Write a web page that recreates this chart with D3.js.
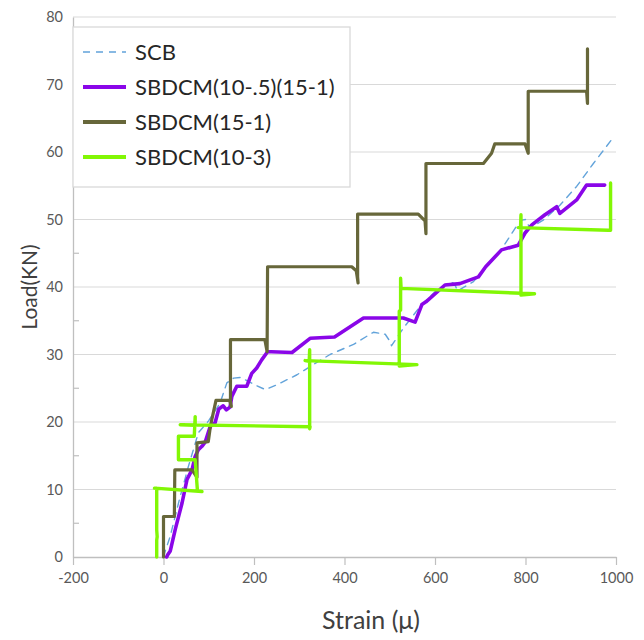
<!DOCTYPE html>
<html>
<head>
<meta charset="utf-8">
<script src="https://cdn.jsdelivr.net/npm/d3@7/dist/d3.min.js"></script>
<style>
  html, body { margin: 0; padding: 0; background: #fff; }
  svg { display: block; }
  text { font-family: Lato, "Open Sans", "Noto Sans", sans-serif; }
</style>
</head>
<body>
<svg id="chart" width="644" height="640"></svg>
<script>
// Load–strain records, [strain (µ), load (kN)]
const scb = [[0,0],[4,0.9],[15,3.1],[22,5],[37,9],[55,13.4],[77,18.4],[100,20.2],[125,22.8],[140,25.8],[155,26.5],[170,26.6],[188,26],[205,25.4],[225,24.8],[250,25.5],[295,27],[331,28.5],[368,30],[420,31.5],[464,33.3],[490,33],[500,32],[504,31.3],[530,33.9],[567,37.1],[600,39.3],[633,40.8],[643,40.5],[650,39.4],[662,39.9],[685,40.8],[720,43.4],[751,46],[777,48.7],[792,49.9],[800,50],[810,48.7],[839,49.9],[876,52.1],[913,54.9],[950,58.3],[990,61.8]];

const sbdcmA = [[7,0],[9,0.3],[15,0.9],[26,4.1],[41,8],[52,11.5],[63,12.9],[70,14.9],[77,15.9],[85,16.4],[92,17],[103,19.3],[114,19.9],[122,21.9],[132,22.4],[139,21.8],[147,22.2],[151,23.8],[162,25.3],[184,25.3],[195,27.2],[206,28],[217,29.2],[230,30.4],[238,30.4],[284,30.3],[324,32.4],[378,32.6],[442,35.4],[530,35.4],[556,34.8],[571,37.4],[580,37.8],[622,40.3],[655,40.5],[696,41.5],[712,43],[747,45.5],[784,46.2],[799,48],[814,49.2],[843,50.7],[869,51.9],[876,50.9],[913,52.9],[935,55.1],[975,55.1]];

const sbdcmB = [[0,0],[0,6],[24,6],[25,12.9],[63,12.9],[74,11.8],[74,16.9],[99,17.1],[104,19.5],[116,23.2],[146,23.2],[150,22.3],[148,23],[148,32.2],[224,32.2],[229,30.4],[229,31],[230,43],[416,43],[426,42.4],[430,40.6],[429,41.5],[429,50.8],[563,50.8],[578,49.8],[580,47.9],[580,48.5],[580,58.3],[707,58.3],[725,59.8],[732,61.2],[799,61.2],[806,59.8],[806,69],[935,69],[937,67.2],[937,75.3]];

const sbdcmC = [[-15,0],[-15,2.5],[-14,3],[-15,4],[-15,10.2],[-20,10.2],[85,9.7],[75,9.8],[70,14.4],[33,14.4],[33,17.9],[68,17.9],[70,20.8],[70,19.5],[37,19.6],[324,19.3],[323,19],[323,30.7],[322,29],[313,29.1],[560,28.5],[540,28.4],[521,28.3],[521,36.4],[524,36.6],[524,41.3],[525,39.8],[820,39],[790,38.8],[790,50.7],[789,48.8],[784,48.8],[983,48.4],[988,48.4],[988,55.4]];

const seriesNames = ["SCB", "SBDCM(10-.5)(15-1)", "SBDCM(15-1)", "SBDCM(10-3)"];
const xTicks = [-200, 0, 200, 400, 600, 800, 1000];
const yTicks = [0, 10, 20, 30, 40, 50, 60, 70, 80];
const yMinorTicks = [5, 15, 25, 35, 45, 55, 65, 75];

const series = [
  { name: seriesNames[0], data: scb,    color: "#62a3da", width: 1.4, dash: "7,6" },
  { name: seriesNames[1], data: sbdcmA, color: "#8a06e8", width: 3.6, dash: null },
  { name: seriesNames[2], data: sbdcmB, color: "#67673a", width: 3.2, dash: null },
  { name: seriesNames[3], data: sbdcmC, color: "#82f705", width: 3.4, dash: null }
];

const svg = d3.select("#chart");
const margin = { left: 73, right: 28, top: 17, bottom: 83 };
const W = 644, H = 640;

const x = d3.scaleLinear().domain([-200, 1000]).range([margin.left, W - margin.right]);
const y = d3.scaleLinear().domain([0, 80]).range([H - margin.bottom, margin.top]);
const plain = d => String(d);

// horizontal gridlines
svg.append("g")
  .selectAll("line")
  .data(yTicks.filter(d => d > 0))
  .join("line")
  .attr("x1", x(-200)).attr("x2", x(1000))
  .attr("y1", d => y(d)).attr("y2", d => y(d))
  .attr("stroke", "#d9d9d9").attr("stroke-width", 1.2);

// y axis
const yAxis = svg.append("g").attr("transform", `translate(${x(-200)},0)`)
  .call(d3.axisLeft(y).tickValues(yTicks).tickFormat(plain).tickSize(0).tickPadding(10));
yAxis.select(".domain").attr("stroke", "#bfbfbf").attr("stroke-width", 1.3);
yAxis.selectAll("text").attr("font-size", 14.5).attr("fill", "#595959");

svg.append("g")
  .selectAll("line")
  .data(yMinorTicks)
  .join("line")
  .attr("x1", x(-200)).attr("x2", x(-200) + 6)
  .attr("y1", d => y(d)).attr("y2", d => y(d))
  .attr("stroke", "#bfbfbf").attr("stroke-width", 1.2);

// x axis
const xAxis = svg.append("g").attr("transform", `translate(0,${y(0)})`)
  .call(d3.axisBottom(x).tickValues(xTicks).tickFormat(plain).tickSize(8).tickSizeOuter(0).tickPadding(8));
xAxis.select(".domain").attr("stroke", "#bfbfbf").attr("stroke-width", 1.3);
xAxis.selectAll(".tick line").attr("stroke", "#bfbfbf").attr("stroke-width", 1.2);
xAxis.selectAll("text").attr("font-size", 14.5).attr("fill", "#595959");

// series lines
const line = d3.line().x(d => x(d[0])).y(d => y(d[1]));
svg.append("g")
  .selectAll("path")
  .data(series)
  .join("path")
  .attr("d", d => line(d.data))
  .attr("fill", "none")
  .attr("stroke", d => d.color)
  .attr("stroke-width", d => d.width)
  .attr("stroke-dasharray", d => d.dash)
  .attr("stroke-linejoin", "round")
  .attr("stroke-linecap", "round");

// axis titles
svg.append("text")
  .attr("x", 371).attr("y", 629)
  .attr("text-anchor", "middle")
  .attr("font-size", 25).attr("fill", "#404040")
  .text("Strain (μ)");

svg.append("text")
  .attr("transform", `translate(37,287) rotate(-90)`)
  .attr("text-anchor", "middle")
  .attr("font-size", 21).attr("fill", "#404040")
  .text("Load(KN)");

// legend
const legend = svg.append("g");
legend.append("rect")
  .attr("x", 73).attr("y", 27).attr("width", 277).attr("height", 160)
  .attr("fill", "#fff").attr("stroke", "#d9d9d9").attr("stroke-width", 1.3);

const rowY = [52, 87, 122, 157];
const rows = legend.selectAll("g.row").data(series).join("g")
  .attr("class", "row")
  .attr("transform", (d, i) => `translate(0,${rowY[i]})`);
rows.append("line")
  .attr("x1", 83).attr("x2", 126).attr("y1", 0).attr("y2", 0)
  .attr("stroke", d => d.color)
  .attr("stroke-width", d => d.dash ? 1.4 : 3.8)
  .attr("stroke-dasharray", d => d.dash);
rows.append("text")
  .attr("x", 135).attr("y", 0).attr("dy", "0.35em")
  .attr("font-size", 22).attr("fill", "#262626")
  .text(d => d.name);
</script>
</body>
</html>
